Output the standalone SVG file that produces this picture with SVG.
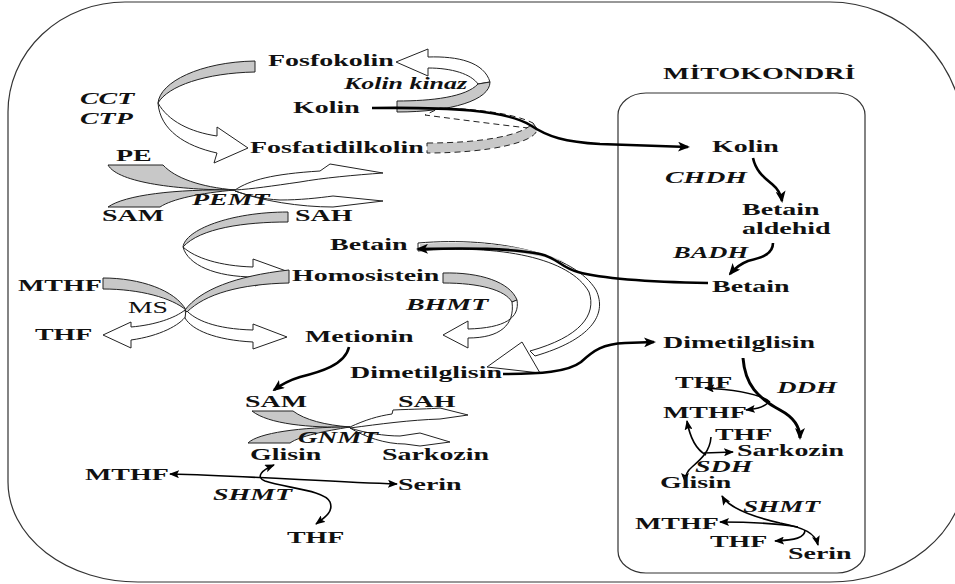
<svg xmlns="http://www.w3.org/2000/svg" width="955" height="584" viewBox="0 0 955 584">
<style>
.t{font-family:"Liberation Serif","Times New Roman",serif;font-weight:bold;font-size:16px;fill:#111}
.i{font-style:italic}
.r{font-weight:normal}
.g{fill:#c8c8c8;stroke:#222;stroke-width:1}
.w{fill:#fff;stroke:#222;stroke-width:1}
.d{stroke-dasharray:6 4}
.k{fill:none;stroke:#000;stroke-width:2.6}
.ks{fill:none;stroke:#000;stroke-width:1.6}
.ea{marker-end:url(#a)}
.eb{marker-end:url(#b)}
.sb{marker-start:url(#b)}
.frame{fill:none;stroke:#333;stroke-width:1.2}
</style>
<defs>
<marker id="a" viewBox="0 0 12 10" refX="10" refY="5" markerWidth="12" markerHeight="10" orient="auto-start-reverse" markerUnits="userSpaceOnUse"><path d="M0,0 L12,5 L0,10 L3,5 Z" fill="#000"/></marker>
<marker id="b" viewBox="0 0 10 8" refX="9" refY="4" markerWidth="10" markerHeight="8" orient="auto-start-reverse" markerUnits="userSpaceOnUse"><path d="M0,0 L10,4 L0,8 L2,4 Z" fill="#000"/></marker>
</defs>
<rect width="955" height="584" fill="#fff"/>
<g id="cell"><path class="frame" d="M125,2 H830 A135 140 0 0 1 965,142 V472 A135 110 0 0 1 830,582 H138 A130 100 0 0 1 8,482 V112 A117 110 0 0 1 125,2 Z"/></g>
<g id="mitokondri-box"><rect class="frame" x="618" y="93" width="247" height="480" rx="28" ry="22"/></g>
<g id="connectors">
<path class="g" d="M255,61 L255,72 C205,73 168,86 158,103 C160,82 200,62 255,61 Z"/>
<path class="w" d="M158,103 C168,121 190,132 217,136 L217,127 L248,148 L214,163 L217,153 C185,146 160,130 158,103 Z"/>
<path class="w" d="M428,57 C458,56 484,62 490,82 L478,84 C471,74 452,68 428,68 L428,76 L396,62 L428,49 Z"/>
<path class="g" d="M397,101 C432,101 466,97 478,84 L490,82 C490,100 452,112 397,112 Z"/>
<path class="w d" d="M440,108 C480,109 515,114 533,123 L537,129 C510,126 470,121 425,115 Z"/>
<path class="g d" d="M427,143 C480,143 522,136 533,123 L537,129 C537,142 490,153 427,153 Z"/>
<path class="g" d="M108,165 L163,165 C175,178 200,187 235,190 C180,190 118,183 108,165 Z"/>
<path class="g" d="M108,207 C125,195 175,189 235,190 C200,193 172,199 160,207 Z"/>
<path class="w" d="M235,190 C250,180 272,174 320,171 L330,164 L383,173 C355,175 322,178 300,182 C272,186 252,189 235,190 Z"/>
<path class="w" d="M235,191 C250,196 262,199 280,200 C300,200 318,198 333,196 L383,201 L333,207 C300,207 262,201 235,191 Z"/>
<path class="g" d="M288,212 L288,222 C245,222 200,228 183,247 C185,230 230,212 288,212 Z"/>
<path class="w" d="M183,247 C195,258 220,266 253,267 L253,259 L289,272 L255,286 L255,277 C215,277 188,265 183,247 Z"/>
<path class="w" d="M185,310 C175,318 155,325 131,327 L131,322 L103,335 L131,348 L131,340 C160,336 180,325 186,316 Z"/>
<path class="w" d="M186,310 C195,320 215,329 253,330 L253,324 L287,337 L253,349 L253,342 C215,340 192,330 185,318 Z"/>
<path class="g" d="M103,278 C140,278 175,290 186,310 C172,298 140,289 103,289 Z"/>
<path class="g" d="M185,310 C200,290 235,276 289,270 L289,283 C240,284 205,294 187,312 Z"/>
<path class="g" d="M443,273 C480,272 510,282 517,300 L512,302 C505,290 480,283 443,283 Z"/>
<path class="w" d="M517,300 C520,318 505,328 468,329 L468,321 L443,335 L468,348 L468,338 C500,338 515,325 512,302 Z"/>
<path class="w" d="M418,243 C500,236 575,255 596,290 C608,315 590,340 535,356 L530,351 C580,337 597,315 589,292 C570,258 500,244 418,251 Z"/>
<path d="M420,244 C480,240 530,246 565,262 C530,252 480,247 420,248 Z" fill="#c8c8c8"/>
<path class="w" d="M522,342 L487,367 L540,373 Z"/>
<path class="g" d="M252,411 L293,411 C305,420 325,425 350,427 C310,428 268,424 252,411 Z"/>
<path class="g" d="M248,443 C258,433 300,427 350,427 C325,431 300,436 290,443 Z"/>
<path class="w" d="M350,427 C365,420 378,416 392,414 L393,410 C415,409 430,409 440,408 L468,415 L440,419 C410,420 380,424 350,428 Z"/>
<path class="w" d="M350,428 C365,433 385,436 400,436 L420,433 L450,442 L420,446 L405,444 C385,444 365,437 350,428 Z"/>
<path class="k ea" d="M372,108 C450,107 505,110 530,125 C548,137 565,142 600,144 L688,147"/>
<path class="k ea" d="M708,283 C650,282 600,278 578,272 C560,267 558,258 540,254 C510,248 470,248 418,249"/>
<path class="k ea" d="M503,374 C540,374 568,372 581,362 C594,350 603,344 625,343 L654,342"/>
<path class="k ea" d="M349,347 C345,365 320,372 300,377 C290,380 282,384 274,390"/>
<path class="ks sb eb" d="M170,474 C250,476 330,482 397,484"/>
<path class="ks sb eb" d="M274,465 C262,470 255,477 265,481 C285,488 325,490 330,502 C334,512 324,518 316,524"/>
<path class="k ea" d="M753,158 C756,172 765,178 772,184 C778,189 781,194 782,201"/>
<path class="k ea" d="M773,243 C773,255 760,258 748,261 C740,264 735,268 730,274"/>
<path class="k ea" style="stroke-width:3" d="M743,358 C745,385 758,398 780,410 C795,418 800,428 800,438"/>
<path class="ks eb" d="M770,402 C760,394 740,390 705,388"/>
<path class="ks eb" d="M768,403 C762,408 755,409 746,410"/>
<path class="ks eb" d="M711,437 C710,452 700,460 692,467 C687,471 685,475 685,482"/>
<path class="ks eb" d="M704,453 L733,452"/>
<path class="ks eb" d="M706,455 C697,450 690,438 687,421"/>
<path class="ks sb eb" d="M722,496 C728,506 745,515 780,523 C805,528 815,533 818,545"/>
<path class="ks eb" d="M798,527 C780,524 750,522 720,522"/>
<path class="ks eb" d="M805,530 C805,538 795,540 775,541"/>
</g>
<g id="n-fosfokolin"><text class="t" x="268" y="66" textLength="125.7" lengthAdjust="spacingAndGlyphs">Fosfokolin</text></g>
<g id="n-kolinkinaz"><text class="t i" x="344" y="89" textLength="123" lengthAdjust="spacingAndGlyphs">Kolin kinaz</text></g>
<g id="n-cct"><text class="t i" x="80" y="104" textLength="54.3" lengthAdjust="spacingAndGlyphs">CCT</text></g>
<g id="n-ctp"><text class="t i" x="80" y="124" textLength="52.7" lengthAdjust="spacingAndGlyphs">CTP</text></g>
<g id="n-kolin"><text class="t" x="293" y="113" textLength="66.7" lengthAdjust="spacingAndGlyphs">Kolin</text></g>
<g id="n-fosfatidilkolin"><text class="t" x="250" y="153" textLength="173.8" lengthAdjust="spacingAndGlyphs">Fosfatidilkolin</text></g>
<g id="n-pe"><text class="t" x="116" y="161" textLength="35.7" lengthAdjust="spacingAndGlyphs">PE</text></g>
<g id="n-sam1"><text class="t" x="102" y="221" textLength="62" lengthAdjust="spacingAndGlyphs">SAM</text></g>
<g id="n-pemt"><text class="t i" x="192" y="205" textLength="77.6" lengthAdjust="spacingAndGlyphs">PEMT</text></g>
<g id="n-sah1"><text class="t" x="295" y="221" textLength="57.4" lengthAdjust="spacingAndGlyphs">SAH</text></g>
<g id="n-betain"><text class="t" x="330" y="250" textLength="77.6" lengthAdjust="spacingAndGlyphs">Betain</text></g>
<g id="n-homosistein"><text class="t" x="292" y="281" textLength="147.4" lengthAdjust="spacingAndGlyphs">Homosistein</text></g>
<g id="n-mthf1"><text class="t" x="18" y="291" textLength="83.8" lengthAdjust="spacingAndGlyphs">MTHF</text></g>
<g id="n-ms"><text class="t r" x="128" y="313" textLength="40" lengthAdjust="spacingAndGlyphs">MS</text></g>
<g id="n-bhmt"><text class="t i" x="406" y="310" textLength="82.2" lengthAdjust="spacingAndGlyphs">BHMT</text></g>
<g id="n-thf1"><text class="t" x="35" y="340" textLength="57.4" lengthAdjust="spacingAndGlyphs">THF</text></g>
<g id="n-metionin"><text class="t" x="305" y="342" textLength="108.6" lengthAdjust="spacingAndGlyphs">Metionin</text></g>
<g id="n-dimetilglisin"><text class="t" x="350" y="378" textLength="152" lengthAdjust="spacingAndGlyphs">Dimetilglisin</text></g>
<g id="n-sam2"><text class="t" x="245" y="407" textLength="62" lengthAdjust="spacingAndGlyphs">SAM</text></g>
<g id="n-sah2"><text class="t" x="398" y="407" textLength="57.4" lengthAdjust="spacingAndGlyphs">SAH</text></g>
<g id="n-gnmt"><text class="t i" x="298" y="443" textLength="80" lengthAdjust="spacingAndGlyphs">GNMT</text></g>
<g id="n-glisin1"><text class="t" x="250" y="460" textLength="71.4" lengthAdjust="spacingAndGlyphs">Glisin</text></g>
<g id="n-sarkozin1"><text class="t" x="382" y="460" textLength="107" lengthAdjust="spacingAndGlyphs">Sarkozin</text></g>
<g id="n-mthf2"><text class="t" x="85" y="480" textLength="83.8" lengthAdjust="spacingAndGlyphs">MTHF</text></g>
<g id="n-serin1"><text class="t" x="398" y="490" textLength="63.6" lengthAdjust="spacingAndGlyphs">Serin</text></g>
<g id="n-shmt1"><text class="t i" x="213" y="500" textLength="79" lengthAdjust="spacingAndGlyphs">SHMT</text></g>
<g id="n-thf2"><text class="t" x="287" y="543" textLength="57.4" lengthAdjust="spacingAndGlyphs">THF</text></g>
<g id="n-mitokondri"><text class="t" x="663" y="79" textLength="192.3" lengthAdjust="spacingAndGlyphs">MİTOKONDRİ</text></g>
<g id="m-kolin"><text class="t" x="712" y="152" textLength="66.7" lengthAdjust="spacingAndGlyphs">Kolin</text></g>
<g id="m-chdh"><text class="t i" x="665" y="183" textLength="82" lengthAdjust="spacingAndGlyphs">CHDH</text></g>
<g id="m-betainaldehid"><text class="t" x="742" y="215" textLength="77.6" lengthAdjust="spacingAndGlyphs">Betain</text><text class="t" x="742" y="234" textLength="88.5" lengthAdjust="spacingAndGlyphs">aldehid</text></g>
<g id="m-badh"><text class="t i" x="673" y="258" textLength="75" lengthAdjust="spacingAndGlyphs">BADH</text></g>
<g id="m-betain"><text class="t" x="712" y="292" textLength="77.6" lengthAdjust="spacingAndGlyphs">Betain</text></g>
<g id="m-dimetilglisin"><text class="t" x="663" y="348" textLength="152" lengthAdjust="spacingAndGlyphs">Dimetilglisin</text></g>
<g id="m-thf1"><text class="t" x="675" y="388" textLength="57.4" lengthAdjust="spacingAndGlyphs">THF</text></g>
<g id="m-ddh"><text class="t i" x="777" y="393" textLength="60" lengthAdjust="spacingAndGlyphs">DDH</text></g>
<g id="m-mthf1"><text class="t" x="663" y="418" textLength="83.8" lengthAdjust="spacingAndGlyphs">MTHF</text></g>
<g id="m-thf2"><text class="t" x="715" y="440" textLength="57.4" lengthAdjust="spacingAndGlyphs">THF</text></g>
<g id="m-sarkozin"><text class="t" x="737" y="456" textLength="107" lengthAdjust="spacingAndGlyphs">Sarkozin</text></g>
<g id="m-sdh"><text class="t i" x="695" y="472" textLength="57.4" lengthAdjust="spacingAndGlyphs">SDH</text></g>
<g id="m-glisin"><text class="t" x="660" y="488" textLength="71.4" lengthAdjust="spacingAndGlyphs">Glisin</text></g>
<g id="m-shmt"><text class="t i" x="743" y="512" textLength="77" lengthAdjust="spacingAndGlyphs">SHMT</text></g>
<g id="m-mthf2"><text class="t" x="635" y="529" textLength="83.8" lengthAdjust="spacingAndGlyphs">MTHF</text></g>
<g id="m-thf3"><text class="t" x="710" y="547" textLength="57.4" lengthAdjust="spacingAndGlyphs">THF</text></g>
<g id="m-serin"><text class="t" x="788" y="559" textLength="63.6" lengthAdjust="spacingAndGlyphs">Serin</text></g>
</svg>
